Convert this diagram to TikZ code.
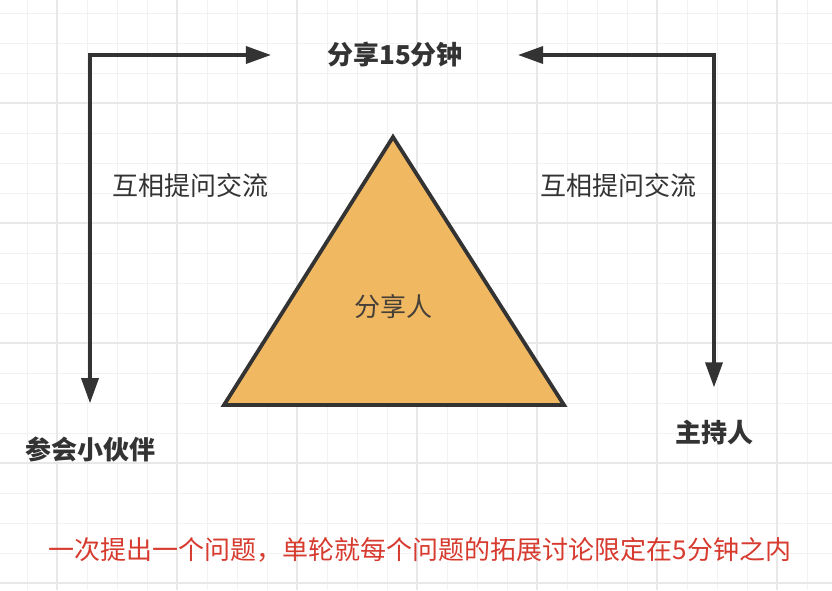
\documentclass[tikz,border=0pt]{standalone}
\usepackage{fontspec}
\usetikzlibrary{arrows.meta}
\newfontfamily\cjk{Noto Sans CJK SC}
\definecolor{ink}{HTML}{333333}
\definecolor{tri}{HTML}{F1B862}
\definecolor{note}{HTML}{D73A2E}
\definecolor{gridminor}{HTML}{F2F2F2}
\definecolor{gridmajor}{HTML}{E8E8E8}

\begin{document}
\begin{tikzpicture}[x=1pt,y=-1pt,
  lbl/.style={font=\cjk\fontsize{26}{30}\selectfont,text=ink,inner sep=0pt},
  hd/.style={font=\cjk\bfseries\fontsize{26}{30}\selectfont,text=ink,inner sep=0pt},
  conn/.style={draw=ink,line width=3.4pt,
    {Triangle[length=25pt,width=17pt]}-{Triangle[length=25pt,width=17pt]}}]
  \useasboundingbox[fill=white] (0,0) rectangle (832,590);
  % grid
  \foreach \x in {27,57,...,807} \draw[gridminor,line width=1pt] (\x,0) -- (\x,590);
  \foreach \y in {13,43,...,583} \draw[gridminor,line width=1pt] (0,\y) -- (832,\y);
  \foreach \x in {57,177,...,777} \draw[gridmajor,line width=1.2pt] (\x,0) -- (\x,590);
  \foreach \y in {103,223,...,583} \draw[gridmajor,line width=1.2pt] (0,\y) -- (832,\y);

  % sharer triangle
  \draw[ink,line width=3.8pt,fill=tri,line join=miter] (393,137) -- (564,405) -- (224,405) -- cycle;
  \node[lbl,text=ink!90!tri] (sharer) at (393,307) {分享人};

  \node[hd] (title) at (395,55) {分享15分钟};
  \node[hd] (guest) at (90,449) {参会小伙伴};
  \node[hd] (host) at (714,433) {主持人};
  \node[lbl] (askl) at (190,186) {互相提问交流};
  \node[lbl] (askr) at (618,186) {互相提问交流};
  \node[lbl,text=note] (rule) at (420,550) {一次提出一个问题，单轮就每个问题的拓展讨论限定在5分钟之内};

  \coordinate (tl) at ([xshift=-56pt]title.west);
  \coordinate (tr) at ([xshift=55pt]title.east);
  \coordinate (gt) at ([yshift=33pt]guest.north);
  \coordinate (ht) at ([yshift=33pt]host.north);
  \draw[conn] (tl) -| (gt);
  \draw[conn] (tr) -| (ht);
\end{tikzpicture}
\end{document}
